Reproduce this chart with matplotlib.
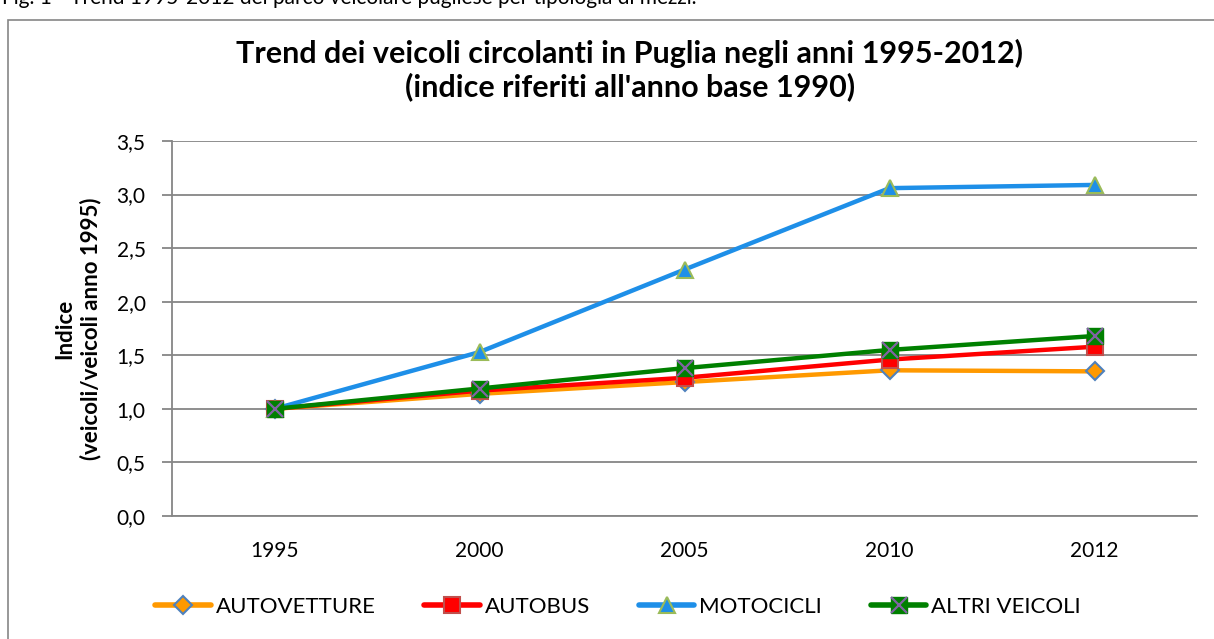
import matplotlib.pyplot as plt
from matplotlib.patches import Rectangle
from matplotlib.lines import Line2D

# data
anni = ["1995", "2000", "2005", "2010", "2012"]
autovetture = [1.00, 1.14, 1.25, 1.36, 1.35]
autobus = [1.00, 1.17, 1.29, 1.46, 1.58]
motocicli = [1.00, 1.53, 2.30, 3.06, 3.09]
altri_veicoli = [1.00, 1.19, 1.38, 1.55, 1.68]
y_ticks = [0.0, 0.5, 1.0, 1.5, 2.0, 2.5, 3.0, 3.5]

plt.rcParams["font.family"] = ["Lato", "DejaVu Sans"]

fig = plt.figure(figsize=(12.14, 6.39), dpi=100)
ax = fig.add_axes([172 / 1214, 1 - 516 / 639, 1025 / 1214, 375 / 639])

# outer chart border (the page caption above it is cut off in the source)
fig.patches.append(Rectangle((8 / 1214, -0.01), 1.2, 1 - 20 / 639 + 0.01,
                             transform=fig.transFigure, fill=False,
                             edgecolor="#868686", linewidth=1.2))
fig.text(2 / 1214, 1 + 2 / 639,
         "Fig. 1 - Trend 1995-2012 del parco veicolare pugliese per tipologia di mezzi.",
         fontsize=15, va="center", ha="left")

x = list(range(len(anni)))
lw = 3.2
ms = 12

ax.plot(x, autovetture, color="#FF9900", lw=lw, marker="D", ms=ms * 0.8,
        mfc="#FF9900", mec="#4F81BD", mew=1.5, zorder=3)
ax.plot(x, autobus, color="#FF0000", lw=lw, marker="s", ms=ms,
        mfc="#FF0000", mec="#C0504D", mew=1.5, zorder=4)
ax.plot(x, motocicli, color="#1E8FE8", lw=lw, marker="^", ms=ms,
        mfc="#1E8FE8", mec="#9BBB59", mew=1.5, zorder=5)
ax.plot(x, altri_veicoli, color="#008000", lw=lw, marker="s", ms=ms,
        mfc="#008000", mec="#008000", mew=1.0, zorder=6)
ax.plot(x, altri_veicoli, ls="none", marker="x", ms=ms * 0.95,
        mec="#8064A2", mew=1.6, zorder=7)

ax.set_xlim(-0.5, len(anni) - 0.5)
ax.set_ylim(0, 3.5)
ax.set_yticks(y_ticks)
ax.set_yticklabels([("%.1f" % v).replace(".", ",") for v in y_ticks], fontsize=15)
ax.set_xticks(x)
ax.set_xticklabels(anni, fontsize=15)
ax.tick_params(axis="x", length=0, pad=18)
ax.tick_params(axis="y", length=7, width=1.3, color="#868686", pad=12)
ax.grid(axis="y", color="#868686", lw=1.3)
ax.set_axisbelow(True)
for s in ["top", "right"]:
    ax.spines[s].set_visible(False)
for s in ["left", "bottom"]:
    ax.spines[s].set_color("#868686")
    ax.spines[s].set_linewidth(1.3)

ax.set_ylabel("Indice\n(veicoli/veicoli anno 1995)", fontsize=16,
              fontweight="bold", labelpad=11, linespacing=1.25)
fig.text(630 / 1214, 1 - 70 / 639,
         "Trend dei veicoli circolanti in Puglia negli anni 1995-2012)\n"
         "(indice riferiti all'anno base 1990)", fontsize=22,
         fontweight="bold", ha="center", va="center", linespacing=1.18)

handles = [
    Line2D([], [], color="#FF9900", lw=lw + 0.8, marker="D", ms=ms * 0.8,
           mfc="#FF9900", mec="#4F81BD", mew=1.5, solid_capstyle="round"),
    Line2D([], [], color="#FF0000", lw=lw + 0.8, marker="s", ms=ms,
           mfc="#FF0000", mec="#C0504D", mew=1.5, solid_capstyle="round"),
    Line2D([], [], color="#1E8FE8", lw=lw + 0.8, marker="^", ms=ms,
           mfc="#1E8FE8", mec="#9BBB59", mew=1.5, solid_capstyle="round"),
    (Line2D([], [], color="#008000", lw=lw + 0.8, marker="s", ms=ms,
            mfc="#008000", mec="#008000", solid_capstyle="round"),
     Line2D([], [], ls="none", marker="x", ms=ms * 0.95, mec="#8064A2", mew=1.6)),
]
labels = ["AUTOVETTURE", "AUTOBUS", "MOTOCICLI", "ALTRI VEICOLI"]
fig.legend(handles, labels, loc="center", bbox_to_anchor=(618 / 1214, 1 - 607 / 639),
           ncol=4, frameon=False, fontsize=16, handlelength=2.5,
           handletextpad=0.22, columnspacing=2.2)

fig.savefig("out.png", dpi=100)
